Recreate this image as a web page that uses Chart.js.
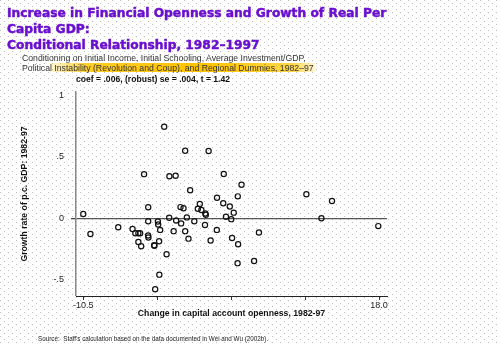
<!DOCTYPE html>
<html>
<head>
<meta charset="utf-8">
<script src="https://cdn.jsdelivr.net/npm/chart.js@4.4.1/dist/chart.umd.min.js"></script>
<style>
html, body { margin: 0; padding: 0; }
body {
    width: 500px; height: 344px; position: relative; overflow: hidden;
    background-color: #fff;
    background-image: url("data:image/svg+xml,%3Csvg xmlns='http://www.w3.org/2000/svg' width='8' height='6'%3E%3Crect x='0' y='0' width='1' height='1' fill='%23bdbdbd'/%3E%3Crect x='4' y='3' width='1' height='1' fill='%23bdbdbd'/%3E%3C/svg%3E");
    font-family: 'Liberation Sans', Arial, sans-serif;
}
#chart { position: absolute; left: 0; top: 0; }
.title {
    position: absolute; left: 7px; top: 4.6px;
    font-family: 'DejaVu Sans', sans-serif;
    font-size: 12.25px; line-height: 16px; font-weight: bold; color: #6a0fd0;
    -webkit-text-stroke: 0.45px #6a0fd0; white-space: nowrap;
}
.sub {
    position: absolute; left: 22px; top: 52.5px;
    font-size: 8.7px; line-height: 10px; color: #333; white-space: nowrap;
}
.mark {
    position: absolute; left: 50px; top: 63px; width: 265px; height: 9px;
    background: linear-gradient(to right, rgba(255, 220, 60, 0.2), #ffcc22 15%, #ffc400 60%, #ffd84a 92%, rgba(255, 230, 120, 0.3));
}
.coef {
    position: absolute; left: 76px; top: 73.5px;
    font-size: 8.6px; line-height: 10px; font-weight: bold; color: #111; white-space: nowrap;
}
.source {
    position: absolute; left: 38px; top: 335px;
    font-size: 6.3px; line-height: 7px; color: #222; white-space: nowrap;
}
</style>
</head>
<body>
<canvas id="chart" width="500" height="344"></canvas>
<div class="title">Increase in Financial Openness and Growth of Real Per<br>Capita GDP:<br>Conditional Relationship, 1982–1997</div>
<div class="mark"></div>
<div class="sub">Conditioning on Initial Income, Initial Schooling, Average Investment/GDP,<br>Political Instability (Revolution and Coup), and Regional Dummies, 1982–97</div>
<div class="coef">coef = .006, (robust) se = .004, t = 1.42</div>
<div class="source">Source:&nbsp; Staff's calculation based on the data documented in Wei and Wu (2002b).</div>
<script>
// values
const opennessChange = [-10.50, -9.81, -7.13, -5.75, -5.48, -5.19, -5.02, -5.19, -4.92, -4.64,
    -4.24, -4.24, -4.25, -4.22, -3.67, -3.64, -3.31, -3.28, -3.09, -3.19,
    -2.47, -3.17, -3.57, -2.70, -2.20, -1.60, -2.22, -1.79, -1.55, -1.07,
    -1.13, -0.84, -0.68, -0.20, -0.68, -0.36, -0.52, 0.20, 0.73, 0.54,
    0.88, 1.26, 1.31, 1.23, 1.77, 1.58, 2.37, 2.39, 3.04, 2.99,
    3.25, 3.62, 3.76, 4.00, 3.84, 4.39, 4.42, 4.37, 4.75, 5.96,
    6.43, 11.00, 13.47, 12.45, 17.93];
const growthRate = [0.035, -0.128, -0.073, -0.087, -0.122, -0.122, -0.122, -0.193, -0.228, 0.360,
    0.090, -0.024, -0.140, -0.157, -0.220, -0.224, -0.026, -0.051, -0.095, -0.188,
    -0.294, -0.460, -0.579, 0.746, 0.343, 0.347, 0.004, -0.105, -0.018, -0.042,
    0.091, 0.082, 0.551, 0.228, -0.105, -0.166, 0.007, -0.024, 0.117, 0.078,
    0.068, 0.039, 0.029, -0.055, -0.181, 0.549, -0.095, 0.168, 0.361, 0.123,
    0.012, 0.096, -0.007, 0.046, -0.161, 0.179, -0.212, -0.366, 0.274, -0.348,
    -0.116, 0.196, 0.141, 0.000, -0.064];

const xTicks = [-10.5, -3.375, 3.75, 10.875, 18.0];
const xTickLabels = ['-10.5', '', '', '', '18.0'];
const yTicks = [-0.5, 0, 0.5, 1];
const yTickLabels = ['-.5', '0', '.5', '1'];

Chart.defaults.font.family = "'Liberation Sans', Arial, sans-serif";
Chart.defaults.color = '#222';

const points = opennessChange.map((x, i) => ({ x: x, y: growthRate[i] }));

const ctx = document.getElementById('chart').getContext('2d');
const chart = new Chart(ctx, {
    type: 'scatter',
    data: {
        datasets: [{
            data: points,
            pointRadius: 2.6,
            pointBorderWidth: 1.2,
            borderColor: '#111',
            backgroundColor: 'rgba(0,0,0,0)',
        }]
    },
    options: {
        responsive: false,
        animation: false,
        layout: {
            padding: { top: 92, right: 113, bottom: 0, left: 0 }
        },
        plugins: {
            legend: { display: false },
            tooltip: { enabled: false }
        },
        scales: {
            x: {
                type: 'linear',
                min: -11.2,
                max: 18.77,
                afterFit: (scale) => { scale.height = 48; },
                afterBuildTicks: (scale) => {
                    scale.ticks = xTicks.map(v => ({ value: v }));
                },
                ticks: {
                    font: { size: 9 },
                    padding: 0,
                    maxRotation: 0,
                    autoSkip: false,
                    callback: (value, index) => xTickLabels[index]
                },
                grid: {
                    drawOnChartArea: false,
                    tickLength: 4,
                    tickColor: '#333'
                },
                border: { color: '#222', width: 1 },
                title: {
                    display: true,
                    text: 'Change in capital account openness, 1982-97',
                    font: { size: 8.7, weight: 'bold' },
                    color: '#111',
                    padding: { top: 0, bottom: 25 }
                }
            },
            y: {
                type: 'linear',
                min: -0.634,
                max: 1.03,
                afterFit: (scale) => { scale.width = 76; },
                afterBuildTicks: (scale) => {
                    scale.ticks = yTicks.map(v => ({ value: v }));
                },
                ticks: {
                    font: { size: 9 },
                    padding: 7,
                    callback: (value, index) => yTickLabels[index]
                },
                grid: {
                    tickLength: 5,
                    tickColor: '#444',
                    lineWidth: function (context) {
                        if (context.tick && context.tick.value == 0) {
                            return 1.3;
                        }
                        return 0;
                    },
                    color: function (context) {
                        if (context.tick && context.tick.value == 0) {
                            return '#555';
                        }
                        return 'rgba(0,0,0,0)';
                    }
                },
                border: { color: '#888', width: 1.5 },
                title: {
                    display: true,
                    text: 'Growth rate of p.c. GDP: 1982-97',
                    font: { size: 8.7, weight: 'bold' },
                    color: '#111',
                    padding: { top: 19.5, bottom: 0 }
                }
            }
        }
    }
});
</script>
</body>
</html>
